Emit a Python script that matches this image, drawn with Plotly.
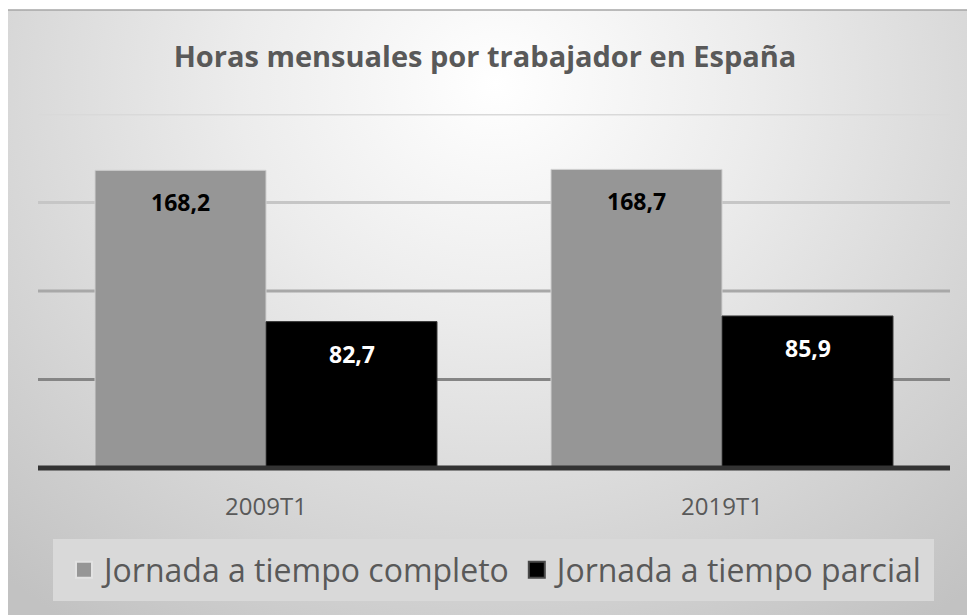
import base64
import plotly.graph_objects as go

categories = ["2009T1", "2019T1"]
series_names = ["Jornada a tiempo completo", "Jornada a tiempo parcial"]
completo = [168.2, 168.7]
parcial = [82.7, 85.9]
series_values = [completo, parcial]
bar_colors = ["#969696", "#000000"]
bar_line_colors = ["#d0d0d0", "#3a3a3a"]
legend_line_colors = ["#e2e2e2", "#4a4a4a"]
label_colors = ["#000000", "#ffffff"]
y_ticks = [0, 50, 100, 150, 200]
grid_colors = ["#333333", "#858585", "#a8a8a8", "#c6c6c6", "#d9d9d9"]

# page body has an 8px margin; work in target-screen pixels and subtract it
OFF = 8
W, H = 975 - OFF, 615 - OFF
PLOT_L, PLOT_R, PLOT_T, PLOT_B = 38, 950, 114, 468  # target screen pixels
ML, MT = PLOT_L - OFF, PLOT_T - OFF
MR = W - (PLOT_R - OFF)
MB = H - (PLOT_B - OFF)
PW = W - ML - MR
PH = H - MT - MB


def px_x(px):
    return (px - PLOT_L) / PW


def px_y(py):
    return (PLOT_B - py) / PH


svg = """<svg xmlns='http://www.w3.org/2000/svg' width='969' height='603' viewBox='0 0 969 603' preserveAspectRatio='none'>
<defs><radialGradient id='g' cx='0.5' cy='0.12' r='0.75' gradientUnits='objectBoundingBox' gradientTransform='translate(0.5,0.12) scale(1,1.45) translate(-0.5,-0.12)'>
<stop offset='0' stop-color='#ffffff'/><stop offset='0.35' stop-color='#ececec'/><stop offset='1' stop-color='#c2c2c2'/></radialGradient></defs>
<rect x='0' y='0' width='969' height='603' fill='url(#g)'/></svg>"""
bg_uri = "data:image/svg+xml;base64," + base64.b64encode(svg.encode()).decode()

fig = go.Figure()
for name, vals, col, lcol in zip(series_names, series_values, bar_colors, bar_line_colors):
    fig.add_trace(go.Bar(
        name=name, x=categories, y=vals, legendgroup=name, showlegend=False,
        marker=dict(color=col, line=dict(color=lcol, width=1)),
        hoverinfo="skip",
    ))
# legend entries with larger square swatches
for name, col, lcol in zip(series_names, bar_colors, legend_line_colors):
    fig.add_trace(go.Scatter(
        name=name, x=[None], y=[None], mode="markers", legendgroup=name,
        marker=dict(symbol="square", size=16, color=col, line=dict(color=lcol, width=2)),
        hoverinfo="skip",
    ))

# data labels inside end of each bar
half_bar_px = PW / len(categories) * 0.75 / 2 / 2
for si, (vals, lc) in enumerate(zip(series_values, label_colors)):
    shift = -half_bar_px if si == 0 else half_bar_px
    for cat, v in zip(categories, vals):
        fig.add_annotation(
            x=cat, y=v, xref="x", yref="y", xshift=shift, yshift=-32,
            text=f"{v:.1f}".replace(".", ","), showarrow=False,
            font=dict(family="Open Sans", size=23, color=lc, weight="bold"),
            xanchor="center", yanchor="middle",
        )

# gridlines
for tv, gc in zip(y_ticks[1:], grid_colors[1:]):
    fig.add_shape(type="line", xref="paper", yref="y", x0=0, x1=1, y0=tv, y1=tv,
                  line=dict(color=gc, width=3), layer="below")
# baseline (value 0 = bottom of the y range), drawn unclipped
fig.add_shape(type="line", xref="paper", yref="paper", x0=0, x1=1, y0=0, y1=0,
              line=dict(color=grid_colors[0], width=5), layer="above")

# legend background
fig.add_shape(type="rect", xref="paper", yref="paper",
              x0=px_x(53), x1=px_x(934), y0=px_y(601), y1=px_y(539),
              fillcolor="#d9d9d9", line=dict(width=0), layer="below")
# chart area top border
fig.add_shape(type="line", xref="paper", yref="paper",
              x0=px_x(6), x1=px_x(985), y0=px_y(10), y1=px_y(10),
              line=dict(color="#a6a6a6", width=1.5), layer="below")

fig.add_layout_image(
    source=bg_uri, xref="paper", yref="paper",
    x=px_x(6), y=px_y(10), sizex=(985 - 6) / PW, sizey=(620 - 10) / PH,
    xanchor="left", yanchor="top", sizing="stretch", layer="below",
)

fig.update_layout(
    width=W, height=H,
    margin=dict(l=ML, r=MR, t=MT, b=MB),
    paper_bgcolor="#ffffff", plot_bgcolor="rgba(0,0,0,0)",
    barmode="group", bargap=0.25, bargroupgap=0,
    separators=",.",
    title=dict(text="<b>Horas mensuales por trabajador en España</b>",
               x=(485 - OFF) / W, xref="container", xanchor="center",
               y=1 - (57 - OFF) / H, yref="container", yanchor="middle",
               font=dict(family="Open Sans", size=29, color="#595959")),
    xaxis=dict(showgrid=False, showline=False, zeroline=False,
               ticks="outside", ticklen=17, tickcolor="rgba(0,0,0,0)",
               tickfont=dict(family="Open Sans", size=24, color="#595959")),
    yaxis=dict(range=[0, 200], showgrid=False, zeroline=False, showline=False,
               showticklabels=False, tickvals=y_ticks),
    showlegend=True,
    legend=dict(orientation="h", x=px_x(496.5), xanchor="center",
                y=px_y(570), yanchor="middle", bgcolor="rgba(0,0,0,0)",
                font=dict(family="Open Sans", size=32, color="#595959"),
                itemclick=False, itemdoubleclick=False),
)

fig.write_html("out.html")
